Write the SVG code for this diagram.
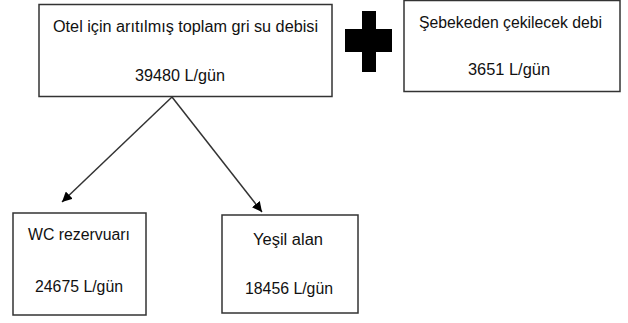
<svg xmlns="http://www.w3.org/2000/svg" width="628" height="323" viewBox="0 0 628 323">
<defs>
<style>
.box{fill:#fff;stroke:#333;stroke-width:1.5}
.t{font-family:"Liberation Sans",Arial,sans-serif;font-size:16px;fill:#111}
.con{stroke:#333;stroke-width:1.5;fill:none}
</style>
<marker id="ah" viewBox="0 0 10 10" refX="10" refY="5" markerWidth="10" markerHeight="10" markerUnits="userSpaceOnUse" orient="auto">
<path d="M0,0 L10,5 L0,10 z" fill="#000"/>
</marker>
</defs>
<rect width="628" height="323" fill="#fff"/>
<g id="main">
<rect class="box" x="39" y="4.5" width="293" height="92"/>
<text class="t" x="53" y="32" textLength="265" lengthAdjust="spacingAndGlyphs">Otel için arıtılmış toplam gri su debisi</text>
<text class="t" x="135" y="81" textLength="90" lengthAdjust="spacingAndGlyphs">39480 L/gün</text>
</g>
<g id="plus">
<rect x="362" y="11" width="14" height="61" fill="#000"/>
<rect x="345" y="29" width="47" height="23" fill="#000"/>
</g>
<g id="sebeke">
<rect class="box" x="404" y="0.5" width="216" height="91"/>
<text class="t" x="419" y="28" textLength="183" lengthAdjust="spacingAndGlyphs">Şebekeden çekilecek debi</text>
<text class="t" x="468" y="75" textLength="82" lengthAdjust="spacingAndGlyphs">3651 L/gün</text>
</g>
<g id="wc">
<rect class="box" x="13" y="213" width="133" height="102"/>
<text class="t" x="28" y="240" textLength="102" lengthAdjust="spacingAndGlyphs">WC rezervuarı</text>
<text class="t" x="35" y="292" textLength="88" lengthAdjust="spacingAndGlyphs">24675 L/gün</text>
</g>
<g id="yesil">
<rect class="box" x="222" y="215" width="136" height="98"/>
<text class="t" x="253" y="245" textLength="70" lengthAdjust="spacingAndGlyphs">Yeşil alan</text>
<text class="t" x="245" y="294" textLength="88" lengthAdjust="spacingAndGlyphs">18456 L/gün</text>
</g>
<g id="connectors">
<line class="con" x1="172" y1="97" x2="62" y2="202" marker-end="url(#ah)"/>
<line class="con" x1="172" y1="97" x2="262" y2="212" marker-end="url(#ah)"/>
</g>
</svg>
